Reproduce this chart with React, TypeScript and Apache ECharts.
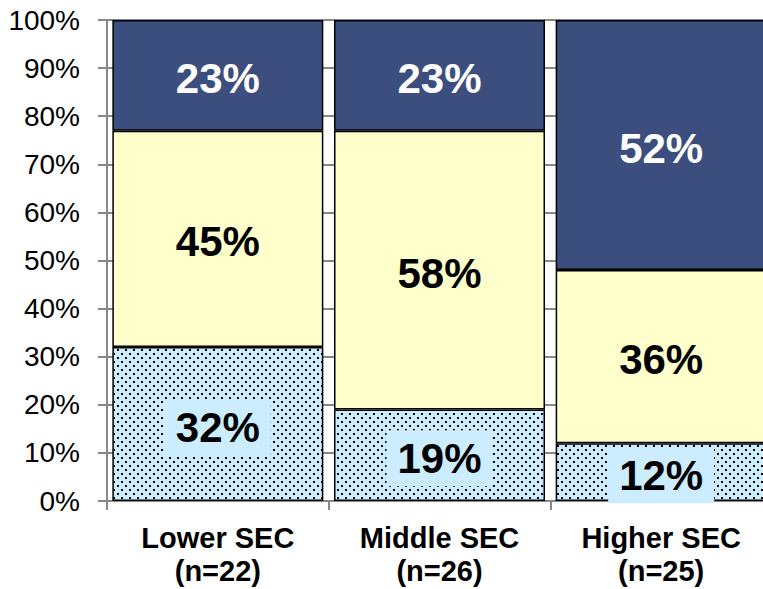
import React, { useEffect, useRef } from "react";
import * as echarts from "echarts";

const categories = ["Lower SEC\n(n=22)", "Middle SEC\n(n=26)", "Higher SEC\n(n=25)"];
const bottomValues = [32, 19, 12];
const middleValues = [45, 58, 36];
const topValues = [23, 23, 52];

function makePattern(): HTMLCanvasElement {
  const c = document.createElement("canvas");
  c.width = 8;
  c.height = 8;
  const ctx = c.getContext("2d")!;
  ctx.fillStyle = "#CCECFF";
  ctx.fillRect(0, 0, 8, 8);
  ctx.fillStyle = "#000000";
  ctx.fillRect(1, 1, 2, 2);
  ctx.fillRect(5, 5, 2, 2);
  return c;
}

export default function App() {
  const ref = useRef<HTMLDivElement>(null);
  useEffect(() => {
    if (!ref.current) return;
    const chart = echarts.init(ref.current, undefined, { renderer: "svg" });
    const font = "Arial, 'Liberation Sans', sans-serif";
    const labelBase = {
      show: true,
      position: "inside" as const,
      offset: [0, 3],
      fontFamily: font,
      fontWeight: "bold" as const,
      fontSize: 42,
      formatter: "{c}%",
    };
    chart.setOption({
      animation: false,
      grid: { left: 107, right: 0, top: 20, bottom: 88, containLabel: false },
      xAxis: {
        type: "category",
        data: categories,
        axisLine: { show: true, lineStyle: { color: "#888888", width: 2 } },
        axisTick: { show: true, length: 9, lineStyle: { color: "#888888", width: 2 } },
        axisLabel: {
          color: "#000",
          fontFamily: font,
          fontWeight: "bold",
          fontSize: 29,
          lineHeight: 33,
          margin: 20,
        },
      },
      yAxis: {
        type: "value",
        min: 0,
        max: 100,
        interval: 10,
        axisLine: { show: true, lineStyle: { color: "#888888", width: 2 } },
        axisTick: { show: true, length: 9, lineStyle: { color: "#888888", width: 2 } },
        axisLabel: {
          color: "#000",
          fontFamily: font,
          fontSize: 28,
          margin: 27,
          formatter: "{value}%",
        },
        splitLine: { show: true, lineStyle: { color: "#888888", width: 2 } },
      },
      series: [
        {
          type: "bar",
          stack: "s",
          data: bottomValues,
          barWidth: 211,
          itemStyle: {
            color: { image: makePattern(), repeat: "repeat" },
            borderColor: "#000",
            borderWidth: 1.5,
          },
          label: {
            ...labelBase,
            color: "#000",
            backgroundColor: "#CCECFF",
            padding: [8, 11, 6, 11],
          },
        },
        {
          type: "bar",
          stack: "s",
          data: middleValues,
          barWidth: 211,
          itemStyle: { color: "#FFFFCC", borderColor: "#000", borderWidth: 1.5 },
          label: { ...labelBase, color: "#000" },
        },
        {
          type: "bar",
          stack: "s",
          data: topValues,
          barWidth: 211,
          itemStyle: { color: "#3B4E7E", borderColor: "#000", borderWidth: 1.5 },
          label: { ...labelBase, color: "#fff" },
        },
      ],
    });
    return () => chart.dispose();
  }, []);
  return (
    <div style={{ width: 763, height: 589, position: "absolute", left: 0, top: 0, overflow: "hidden" }}>
      <div ref={ref} style={{ width: 772, height: 589 }} />
    </div>
  );
}
